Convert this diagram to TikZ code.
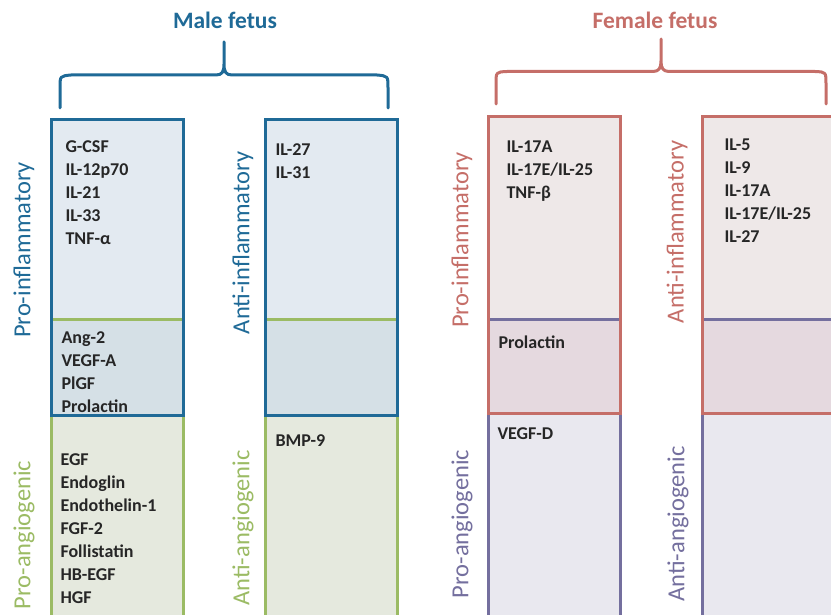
\documentclass[tikz,border=0pt]{standalone}
\usepackage{fontspec}
\setmainfont{Carlito}
\usetikzlibrary{positioning}
\definecolor{maleblue}{RGB}{31,106,151}
\definecolor{malefill}{RGB}{227,234,241}
\definecolor{maleboth}{RGB}{213,224,230}
\definecolor{angiogreen}{RGB}{155,187,100}
\definecolor{angiofill}{RGB}{229,233,222}
\definecolor{femred}{RGB}{197,110,104}
\definecolor{femfill}{RGB}{238,232,232}
\definecolor{femboth}{RGB}{229,217,223}
\definecolor{angiopurple}{RGB}{116,111,158}
\definecolor{purplefill}{RGB}{233,232,239}
\definecolor{itemtext}{RGB}{38,38,38}
\tikzset{
panel/.style={rectangle, inner sep=0pt, outer sep=0pt, minimum width=132pt}, % one column of the chart
upper/.style={panel, minimum height=296pt}, % inflammatory part
lower/.style={panel, minimum height=298pt}, % angiogenic part, runs off the page
items/.style={anchor=north west, inner sep=0pt, align=left, text=itemtext, font=\fontsize{18}{23}\selectfont\bfseries},
side/.style={rotate=90, inner sep=0pt, font=\fontsize{24.5}{28}\selectfont}, % labels beside the columns
title/.style={inner sep=0pt, font=\fontsize{23.5}{28}\selectfont\bfseries},
brace/.style={line width=3pt, line join=round, line cap=round}
}

\begin{document}
\begin{tikzpicture}[x=1pt, y=-1pt, line width=3pt]
  \useasboundingbox (0,0) rectangle (831,615);
  \clip (0,0) rectangle (831,615);

  % male fetus
  \node[lower, fill=angiofill, draw=angiogreen, anchor=north west] (mpa) at (51,319) {};
  \node[lower, fill=angiofill, draw=angiogreen, right=82pt of mpa] (maa) {};
  \node[upper, fill=malefill, anchor=north west] (mpi) at (51,119.5) {};
  \node[upper, fill=malefill, right=82pt of mpi] (mai) {};
  \fill[maleboth] (mpa.north west) rectangle (mpi.south east)
    (maa.north west) rectangle (mai.south east);
  \draw[angiogreen] (mpa.north west) -- (mpa.north east) (maa.north west) -- (maa.north east);
  \draw[maleblue] (mpi.north west) rectangle (mpi.south east) (mai.north west) rectangle (mai.south east);

  % female fetus
  \node[lower, fill=purplefill, draw=angiopurple, anchor=north west] (fpa) at (488,319) {};
  \node[lower, fill=purplefill, draw=angiopurple, right=82pt of fpa] (faa) {};
  \node[upper, fill=femfill, anchor=north west] (fpi) at (488,117) {};
  \node[upper, fill=femfill, right=82pt of fpi] (fai) {};
  \fill[femboth] (fpa.north west) rectangle (fpi.south east)
    (faa.north west) rectangle (fai.south east);
  \draw[angiopurple] (fpa.north west) -- (fpa.north east) (faa.north west) -- (faa.north east);
  \draw[femred] (fpi.north west) rectangle (fpi.south east) (fai.north west) rectangle (fai.south east);

  % lists
  \node[items] (mpilist) at (64,139) {G-CSF\\IL-12p70\\IL-21\\IL-33\\TNF-α};
  \node[items] (mbothlist) at (60,330) {Ang-2\\VEGF-A\\PlGF\\Prolactin};
  \node[items] (mpalist) at (59,452) {EGF\\Endoglin\\Endothelin-1\\FGF-2\\Follistatin\\HB-EGF\\HGF};
  \node[items] (mailist) at (274,142) {IL-27\\IL-31};
  \node[items] (maalist) at (274,433) {BMP-9};
  \node[items] (fpilist) at (505,139) {IL-17A\\IL-17E/IL-25\\TNF-β};
  \node[items] (fbothlist) at (497,334) {Prolactin};
  \node[items] (fpalist) at (496,426) {VEGF-D};
  \node[items] (failist) at (723,137) {IL-5\\IL-9\\IL-17A\\IL-17E/IL-25\\IL-27};

  % side labels
  \node[side, text=maleblue] (mpilab) at (24,250) {Pro-inflammatory};
  \node[side, text=maleblue] (mailab) at (243,243) {Anti-inflammatory};
  \node[side, text=angiogreen] (mpalab) at (24,535) {Pro-angiogenic};
  \node[side, text=angiogreen] (maalab) at (243,528) {Anti-angiogenic};
  \node[side, text=femred] (fpilab) at (462,240) {Pro-inflammatory};
  \node[side, text=femred] (failab) at (677,232) {Anti-inflammatory};
  \node[side, text=angiopurple] (fpalab) at (462,524) {Pro-angiogenic};
  \node[side, text=angiopurple] (faalab) at (678,524) {Anti-angiogenic};

  % titles and braces
  \node[title, text=maleblue] (male) at (225,20) {Male fetus};
  \node[title, text=femred] (female) at (655,20) {Female fetus};
  \draw[maleblue, brace] (60,108) -- (60,88) .. controls (60,76) .. (71,75) -- (216,75)
    .. controls (222,75) and (224,72) .. (224,64) -- (224,42) -- (224,64)
    .. controls (224,72) and (226,75) .. (232,75) -- (377,75) .. controls (388,76) .. (388,88) -- (388,108);
  \draw[femred, brace] (496,104) -- (496,84) .. controls (496,72) .. (507,71.5) -- (653,71.5)
    .. controls (659,71.5) and (661,68) .. (661,61) -- (661,39) -- (661,61)
    .. controls (661,68) and (663,71.5) .. (669,71.5) -- (815,71.5) .. controls (826,72) .. (826,84) -- (826,104);
\end{tikzpicture}
\end{document}
